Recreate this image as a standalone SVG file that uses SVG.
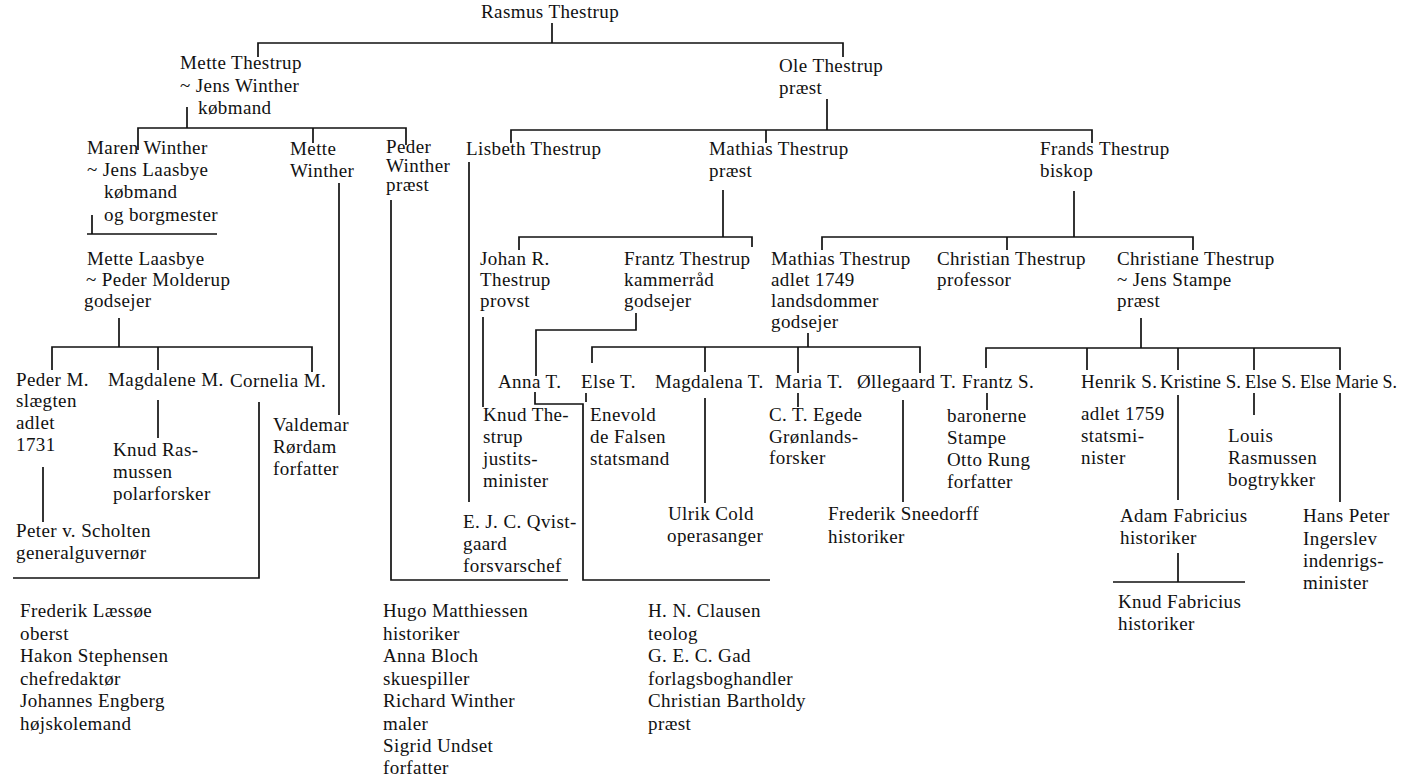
<svg xmlns="http://www.w3.org/2000/svg" width="1405" height="779" viewBox="0 0 1405 779">
<style>
text{font-family:"Liberation Serif","DejaVu Serif",serif;font-size:19px;letter-spacing:0.4px;fill:#111}
text.n{letter-spacing:0}
.c path{fill:none;stroke:#111;stroke-width:1.7}
</style>
<rect width="1405" height="779" fill="#fff"/>
<g class="c" id="connectors">
<path d="M552,23 V43"/>
<path d="M258,57 V43 H843 V57"/>
<path d="M187,107 V128"/>
<path d="M138,150 V128 H406 V145"/>
<path d="M313,128 V143"/>
<path d="M92,215 V234 M87,234 H217"/>
<path d="M339,183 V415"/>
<path d="M391,200 V580 H568"/>
<path d="M469,162 V502"/>
<path d="M827,99 V130"/>
<path d="M511,143 V130 H1092 V143"/>
<path d="M766,130 V143"/>
<path d="M723,190 V237"/>
<path d="M519,250 V237 H752 V247"/>
<path d="M1074,191 V237"/>
<path d="M822,250 V237 H1193 V250"/>
<path d="M1007,237 V250"/>
<path d="M119,318 V347"/>
<path d="M52,370 V347 H312 V372"/>
<path d="M158,347 V370"/>
<path d="M43,467 V522"/>
<path d="M158,400 V438"/>
<path d="M259,402 V578 H13"/>
<path d="M636,313 V330 H536 V376"/>
<path d="M535,392 V404 H583 V580 H770"/>
<path d="M483,317 V407"/>
<path d="M808,333 V347"/>
<path d="M592,363 V347 H920 V373"/>
<path d="M705,347 V372"/>
<path d="M798,347 V373"/>
<path d="M586,393 V402"/>
<path d="M705,398 V503"/>
<path d="M798,393 V407"/>
<path d="M903,400 V502"/>
<path d="M1141,318 V348"/>
<path d="M986,368 V348 H1340 V370"/>
<path d="M1087,348 V370"/>
<path d="M1178,348 V370"/>
<path d="M1254,348 V370"/>
<path d="M987,393 V410"/>
<path d="M1178,395 V500"/>
<path d="M1178,553 V582 M1113,582 H1245"/>
<path d="M1254,393 V415"/>
<path d="M1340,393 V502"/>
</g>
<g id="rasmus"><text x="481" y="18">Rasmus Thestrup</text></g>
<g id="mette-thestrup"><text x="180" y="69">Mette Thestrup</text><text x="180" y="92">~ Jens Winther</text><text x="198" y="114">købmand</text></g>
<g id="ole"><text x="779" y="72">Ole Thestrup</text><text x="779" y="94">præst</text></g>
<g id="maren"><text x="87" y="154">Maren Winther</text><text x="87" y="176">~ Jens Laasbye</text><text x="104" y="198">købmand</text><text x="104" y="221">og borgmester</text></g>
<g id="mette-winther"><text x="290" y="155">Mette</text><text x="290" y="177">Winther</text></g>
<g id="peder-winther"><text x="386" y="153">Peder</text><text x="386" y="172">Winther</text><text x="386" y="191">præst</text></g>
<g id="lisbeth"><text x="466" y="155">Lisbeth Thestrup</text></g>
<g id="mathias-praest"><text x="709" y="155">Mathias Thestrup</text><text x="709" y="177">præst</text></g>
<g id="frands"><text x="1040" y="155">Frands Thestrup</text><text x="1040" y="177">biskop</text></g>
<g id="mette-laasbye"><text x="87" y="265">Mette Laasbye</text><text x="86" y="286">~ Peder Molderup</text><text x="84" y="307">godsejer</text></g>
<g id="johan"><text x="480" y="265">Johan R.</text><text x="480" y="286">Thestrup</text><text x="480" y="307">provst</text></g>
<g id="frantz"><text x="624" y="265">Frantz Thestrup</text><text x="624" y="286">kammerråd</text><text x="624" y="307">godsejer</text></g>
<g id="mathias-adlet"><text x="771" y="265">Mathias Thestrup</text><text x="771" y="286">adlet 1749</text><text x="771" y="307">landsdommer</text><text x="771" y="328">godsejer</text></g>
<g id="christian"><text x="937" y="265">Christian Thestrup</text><text x="937" y="286">professor</text></g>
<g id="christiane"><text x="1117" y="265">Christiane Thestrup</text><text x="1117" y="286">~ Jens Stampe</text><text x="1117" y="307">præst</text></g>
<g id="peder-m"><text x="16" y="386">Peder M.</text><text x="16" y="407">slægten</text><text x="16" y="429">adlet</text><text x="16" y="451">1731</text></g>
<g id="magdalene-m"><text x="108" y="386">Magdalene M.</text></g>
<g id="cornelia"><text x="230" y="387">Cornelia M.</text></g>
<g id="valdemar"><text x="273" y="431">Valdemar</text><text x="273" y="453">Rørdam</text><text x="273" y="475">forfatter</text></g>
<g id="knud-rasmussen"><text x="113" y="456">Knud Ras-</text><text x="113" y="478">mussen</text><text x="113" y="500">polarforsker</text></g>
<g id="peter-scholten"><text x="16" y="537">Peter v. Scholten</text><text x="16" y="559">generalguvernør</text></g>
<g id="anna"><text x="498" y="388">Anna T.</text></g>
<g id="else-t"><text x="581" y="388">Else T.</text></g>
<g id="magdalena-t"><text x="655" y="388">Magdalena T.</text></g>
<g id="maria"><text x="775" y="388">Maria T.</text></g>
<g id="ollegaard"><text x="857" y="388">Øllegaard T.</text></g>
<g id="frantz-s"><text x="962" y="388">Frantz S.</text></g>
<g id="henrik"><text x="1081" y="388">Henrik S.</text><text x="1081" y="420">adlet 1759</text><text x="1081" y="442">statsmi-</text><text x="1081" y="464">nister</text></g>
<g id="kristine"><text class="n" x="1160" y="388" textLength="81" lengthAdjust="spacingAndGlyphs">Kristine S.</text></g>
<g id="else-s"><text class="n" x="1245" y="388" textLength="51" lengthAdjust="spacingAndGlyphs">Else S.</text></g>
<g id="else-marie"><text class="n" x="1300" y="388" textLength="97" lengthAdjust="spacingAndGlyphs">Else Marie S.</text></g>
<g id="knud-thestrup"><text x="483" y="421">Knud The-</text><text x="483" y="443">strup</text><text x="483" y="465">justits-</text><text x="483" y="487">minister</text></g>
<g id="enevold"><text x="590" y="421">Enevold</text><text x="590" y="443">de Falsen</text><text x="590" y="465">statsmand</text></g>
<g id="egede"><text x="769" y="421">C. T. Egede</text><text x="769" y="443">Grønlands-</text><text x="769" y="464">forsker</text></g>
<g id="baronerne"><text x="947" y="422">baronerne</text><text x="947" y="444">Stampe</text><text x="947" y="466">Otto Rung</text><text x="947" y="488">forfatter</text></g>
<g id="louis"><text x="1228" y="442">Louis</text><text x="1228" y="464">Rasmussen</text><text x="1228" y="486">bogtrykker</text></g>
<g id="qvistgaard"><text x="463" y="528">E. J. C. Qvist-</text><text x="463" y="550">gaard</text><text x="463" y="572">forsvarschef</text></g>
<g id="ulrik"><text x="668" y="520">Ulrik Cold</text><text x="667" y="542">operasanger</text></g>
<g id="sneedorff"><text x="828" y="520">Frederik Sneedorff</text><text x="828" y="543">historiker</text></g>
<g id="adam"><text x="1120" y="522">Adam Fabricius</text><text x="1120" y="544">historiker</text></g>
<g id="hans-peter"><text x="1303" y="522">Hans Peter</text><text x="1303" y="545">Ingerslev</text><text x="1303" y="567">indenrigs-</text><text x="1303" y="589">minister</text></g>
<g id="knud-fabricius"><text x="1118" y="608">Knud Fabricius</text><text x="1118" y="630">historiker</text></g>
<g id="laessoe-list"><text x="20" y="617">Frederik Læssøe</text><text x="20" y="640">oberst</text><text x="20" y="662">Hakon Stephensen</text><text x="20" y="685">chefredaktør</text><text x="20" y="707">Johannes Engberg</text><text x="20" y="730">højskolemand</text></g>
<g id="hugo-list"><text x="383" y="617">Hugo Matthiessen</text><text x="383" y="640">historiker</text><text x="383" y="662">Anna Bloch</text><text x="383" y="685">skuespiller</text><text x="383" y="707">Richard Winther</text><text x="383" y="730">maler</text><text x="383" y="752">Sigrid Undset</text><text x="383" y="774">forfatter</text></g>
<g id="clausen-list"><text x="648" y="617">H. N. Clausen</text><text x="648" y="640">teolog</text><text x="648" y="662">G. E. C. Gad</text><text x="648" y="685">forlagsboghandler</text><text x="648" y="707">Christian Bartholdy</text><text x="648" y="730">præst</text></g>
</svg>
